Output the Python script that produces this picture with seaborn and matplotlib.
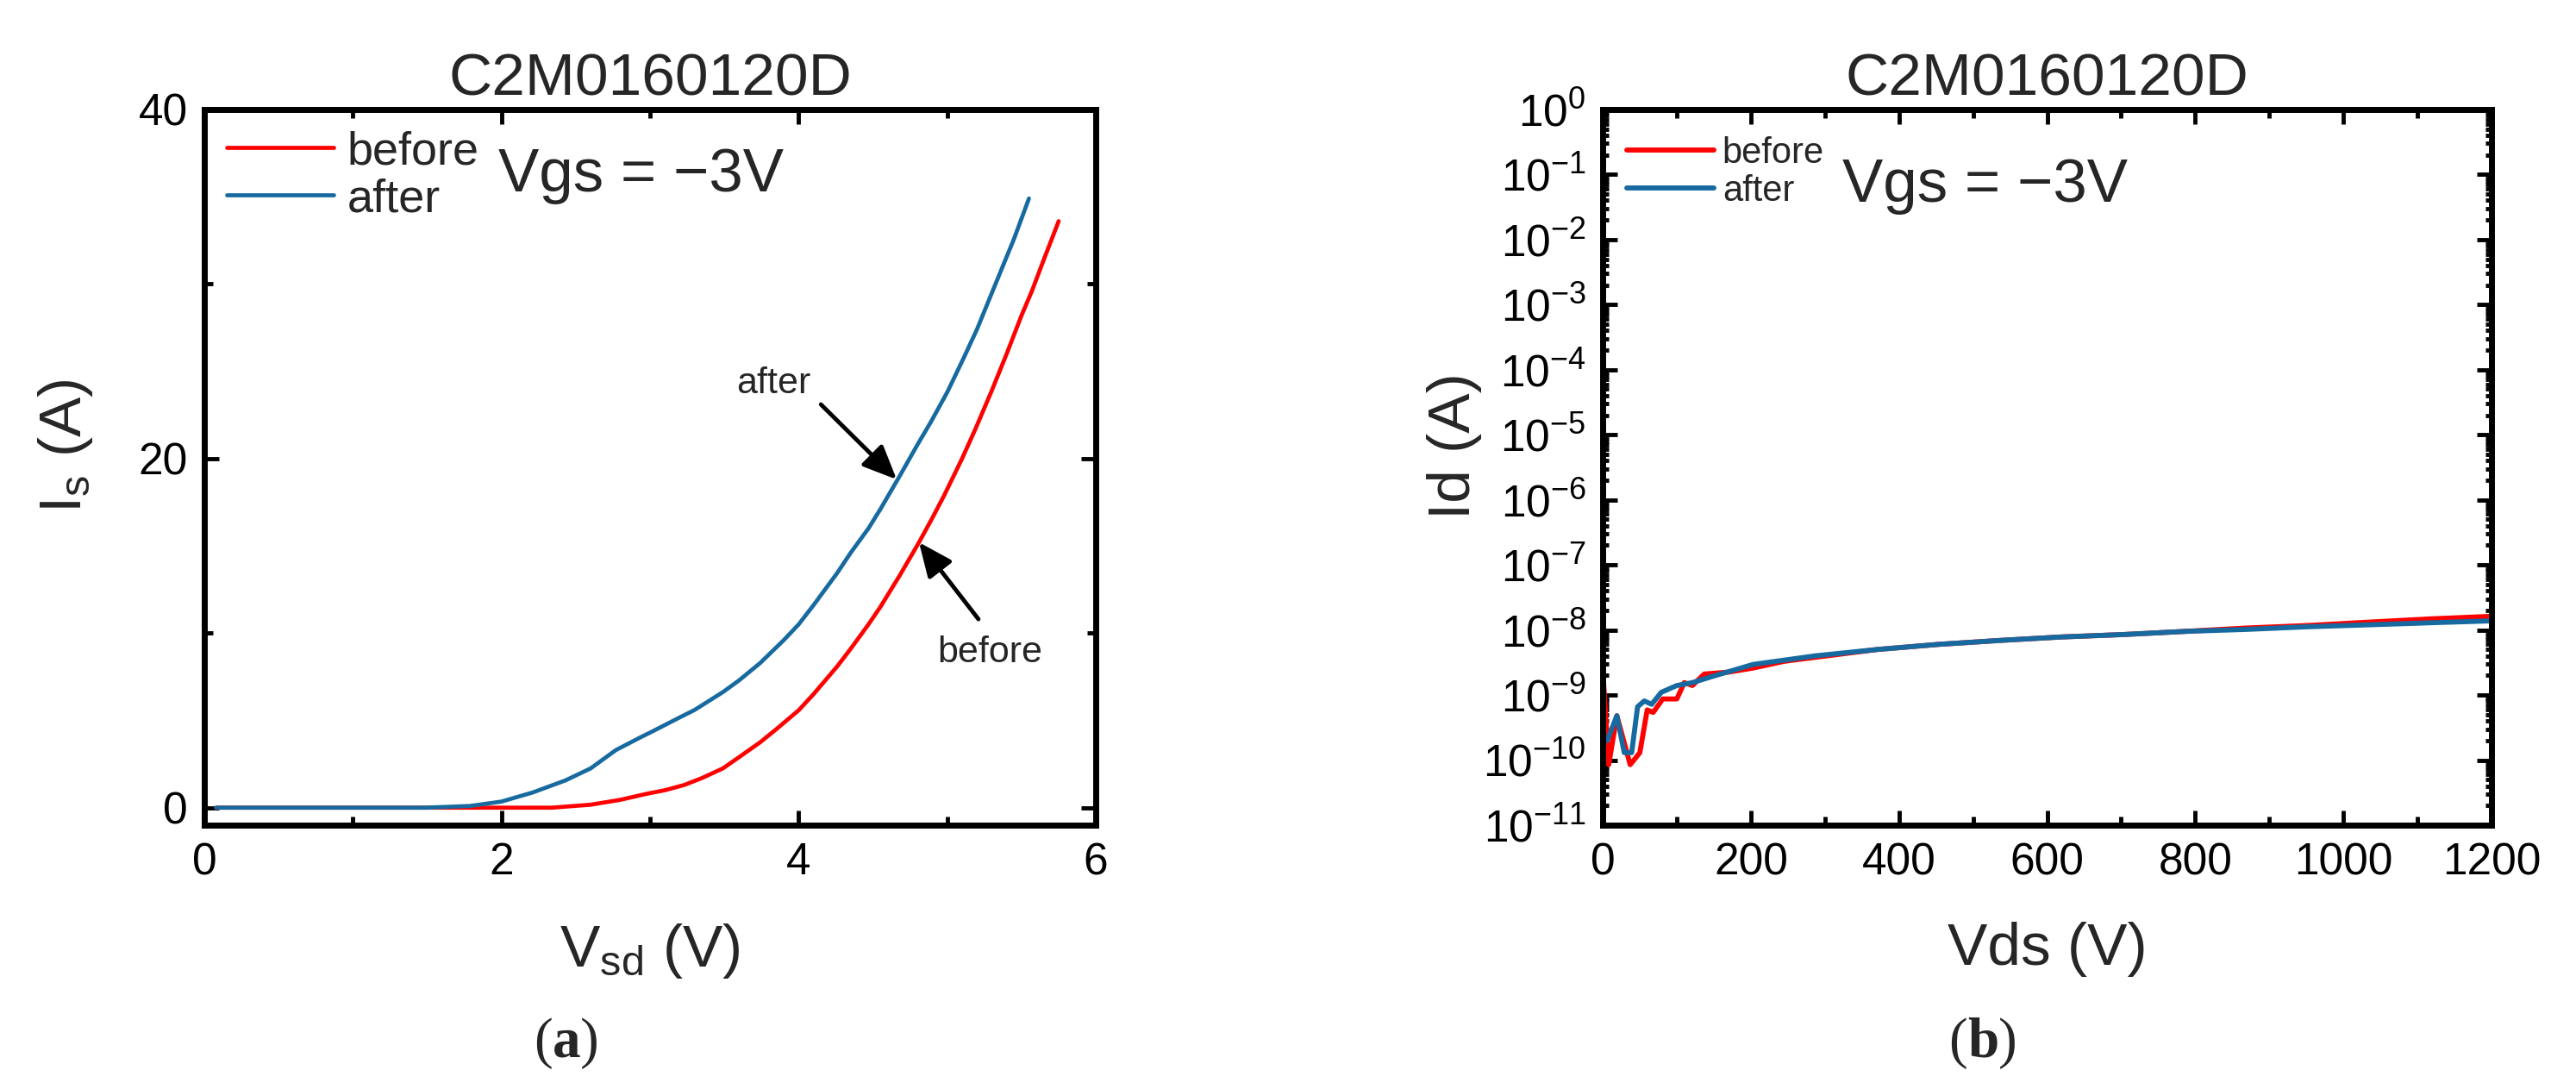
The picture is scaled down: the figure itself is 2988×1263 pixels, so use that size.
import numpy as np
import pandas as pd
import matplotlib
matplotlib.use("Agg")
import matplotlib.pyplot as plt
import seaborn as sns
from matplotlib.ticker import MultipleLocator, LogLocator, LogFormatterMathtext, NullFormatter
from matplotlib.offsetbox import TextArea, HPacker, AnnotationBbox

# -----------------------
# Data
# -----------------------

# (a) reverse conduction, Is vs Vsd
vsd_before = [0.08, 0.5, 1.0, 1.5, 2.0, 2.34, 2.6, 2.8, 2.98, 3.1, 3.23, 3.35, 3.49,
              3.6, 3.74, 3.85, 4.0, 4.1, 4.26, 4.35, 4.47, 4.55, 4.68, 4.81, 4.9,
              4.98, 5.1, 5.19, 5.3, 5.4, 5.5, 5.57, 5.65, 5.75]
is_before = [0, 0, 0, 0, 0, 0, 0.17, 0.45, 0.8, 1.0, 1.3, 1.7, 2.25,
             2.9, 3.74, 4.5, 5.58, 6.5, 8.1, 9.1, 10.5, 11.5, 13.3, 15.2, 16.6,
             17.9, 20.0, 21.7, 23.9, 26.0, 28.2, 29.6, 31.4, 33.6]

vsd_after = [0.08, 0.5, 1.0, 1.49, 1.79, 2.0, 2.21, 2.43, 2.6, 2.77, 2.94, 3.0,
             3.19, 3.3, 3.49, 3.6, 3.74, 3.9, 4.0, 4.1, 4.26, 4.35, 4.47, 4.55,
             4.68, 4.8, 4.89, 5.0, 5.11, 5.2, 5.32, 5.45, 5.55]
is_after = [0, 0, 0, 0, 0.1, 0.35, 0.87, 1.56, 2.25, 3.3, 4.05, 4.3,
            5.13, 5.6, 6.62, 7.3, 8.28, 9.6, 10.5, 11.6, 13.45, 14.6, 16.0, 17.1,
            19.0, 20.8, 22.1, 23.8, 25.75, 27.4, 29.9, 32.6, 34.9]

# (b) blocking leakage, Id vs Vds
vds_before = [0, 8, 19, 37, 50, 60, 68, 81, 100, 110, 121, 137, 170, 203, 245,
              287, 370, 453, 536, 619, 703, 786, 869, 952, 1035, 1118, 1200]
id_before = [2.4e-9, 8.5e-11, 4.8e-10, 8.5e-11, 1.3e-10, 5.9e-10, 5.4e-10, 8.7e-10,
             8.7e-10, 1.55e-9, 1.4e-9, 2.1e-9, 2.25e-9, 2.6e-9, 3.3e-9, 3.8e-9,
             5.0e-9, 6.0e-9, 6.9e-9, 7.8e-9, 8.5e-9, 9.5e-9, 1.07e-8, 1.17e-8,
             1.32e-8, 1.48e-8, 1.62e-8]

vds_after = [6, 19, 29, 39, 47, 56, 66, 79, 100, 121, 146, 203, 287, 370, 453,
             536, 619, 703, 786, 869, 952, 1035, 1118, 1200]
id_after = [2.0e-10, 4.8e-10, 1.3e-10, 1.3e-10, 6.6e-10, 8.1e-10, 7.2e-10, 1.1e-9,
            1.4e-9, 1.55e-9, 1.9e-9, 2.95e-9, 4.0e-9, 5.0e-9, 6.0e-9, 6.9e-9,
            7.8e-9, 8.5e-9, 9.5e-9, 1.02e-8, 1.12e-8, 1.2e-8, 1.29e-8, 1.38e-8]

RED = "#ff0000"
BLUE = "#176aa0"

# -----------------------
# Style
# -----------------------

sns.set_style("ticks")
plt.rcParams["font.family"] = ["Liberation Sans", "DejaVu Sans"]
plt.rcParams["mathtext.fontset"] = "custom"
plt.rcParams["mathtext.rm"] = "Liberation Sans"
plt.rcParams["mathtext.it"] = "Liberation Sans:italic"
plt.rcParams["mathtext.bf"] = "Liberation Sans:bold"
plt.rcParams["mathtext.default"] = "regular"

fig = plt.figure(figsize=(29.88, 12.63), dpi=100)
ax1 = fig.add_axes([0.0793, 0.2423, 0.3461, 0.6572])
ax2 = fig.add_axes([0.6222, 0.2423, 0.3450, 0.6572])


def style_axes(ax):
    for sp in ax.spines.values():
        sp.set_linewidth(5.0)
        sp.set_color("black")
    ax.tick_params(which="both", direction="in", top=True, right=True,
                   width=3.5, labelsize=37, pad=14, colors="black")
    ax.tick_params(which="major", length=12)
    ax.tick_params(which="minor", length=7)


# -----------------------
# (a) Is vs Vsd
# -----------------------

sns.lineplot(x=vsd_before, y=is_before, color=RED, lw=3.4, ax=ax1, label="before")
sns.lineplot(x=vsd_after, y=is_after, color=BLUE, lw=3.4, ax=ax1, label="after")

ax1.set_xlim(0, 6)
ax1.set_ylim(-1, 40)
ax1.xaxis.set_major_locator(MultipleLocator(2))
ax1.xaxis.set_minor_locator(MultipleLocator(1))
ax1.yaxis.set_major_locator(MultipleLocator(20))
ax1.yaxis.set_minor_locator(MultipleLocator(10))
style_axes(ax1)

ax1.set_title("C2M0160120D", fontsize=50, pad=12)
ax1.set_xlabel(r"V$_{sd}$ (V)", fontsize=50)
ax1.set_ylabel(r"I$_{s}$ (A)", fontsize=50)
ax1.xaxis.set_label_coords(0.5, -0.135)
ax1.yaxis.set_label_coords(-0.123, 0.53)

ax1.legend(loc="upper left", bbox_to_anchor=(0.025, 0.971), frameon=False,
           fontsize=39, handlelength=2.3, handletextpad=0.28, labelspacing=0.1,
           borderpad=0, borderaxespad=0)
ax1.text(1.98, 35.3, "Vgs = \u22123V", fontsize=51, va="baseline", ha="left")

arrow = dict(arrowstyle="-|>,head_length=0.8,head_width=0.35", color="black",
             lw=3.5, mutation_scale=30, shrinkA=0, shrinkB=0)
ax1.annotate("", xy=(4.66, 18.8), xytext=(4.15, 23.1), arrowprops=arrow)
ax1.annotate("", xy=(4.81, 15.2), xytext=(5.21, 10.8), arrowprops=arrow)
ax1.text(3.83, 24.3, "after", fontsize=31, ha="center", va="center")
ax1.text(5.29, 8.87, "before", fontsize=31, ha="center", va="center")

# -----------------------
# (b) Id vs Vds
# -----------------------

sns.lineplot(x=vds_before, y=id_before, color=RED, lw=4.2, ax=ax2, label="before")
sns.lineplot(x=vds_after, y=id_after, color=BLUE, lw=4.2, ax=ax2, label="after")

ax2.set_yscale("log")
ax2.set_xlim(0, 1200)
ax2.set_ylim(1e-11, 1)
ax2.xaxis.set_major_locator(MultipleLocator(200))
ax2.xaxis.set_minor_locator(MultipleLocator(100))
ax2.yaxis.set_major_locator(LogLocator(base=10, numticks=20))
ax2.yaxis.set_major_formatter(LogFormatterMathtext())
ax2.yaxis.set_minor_locator(LogLocator(base=10, subs=np.arange(2, 10), numticks=20))
ax2.yaxis.set_minor_formatter(NullFormatter())
style_axes(ax2)
ax2.tick_params(which="minor", axis="y", length=5)

ax2.set_title("C2M0160120D", fontsize=50, pad=12)
ax2.set_xlabel("Vds (V)", fontsize=50)
ax2.set_ylabel("Id (A)", fontsize=50)
ax2.xaxis.set_label_coords(0.5, -0.135)
ax2.yaxis.set_label_coords(-0.136, 0.53)

ax2.legend(loc="upper left", bbox_to_anchor=(0.027, 0.963), frameon=False,
           fontsize=30, handlelength=2.42, handletextpad=0.24, labelspacing=0.1,
           borderpad=0, borderaxespad=0)
ax2.text(324, 10 ** -1.414, "Vgs = \u22123V", fontsize=51, va="baseline", ha="left")

# -----------------------
# Panel captions (a), (b)
# -----------------------

serif = dict(fontsize=47, family="Liberation Serif")
serif_bold = dict(fontsize=47, family="Liberation Serif", fontweight="bold")
for letter, xpos in [("a", 0.2199), ("b", 0.7697)]:
    box = HPacker(children=[TextArea("(", textprops=serif),
                            TextArea(letter, textprops=serif_bold),
                            TextArea(")", textprops=serif)],
                  sep=0, pad=0, align="baseline")
    fig.add_artist(AnnotationBbox(box, (xpos, 0.042), xycoords="figure fraction",
                                  frameon=False))

plt.savefig("out.png", dpi=100)
